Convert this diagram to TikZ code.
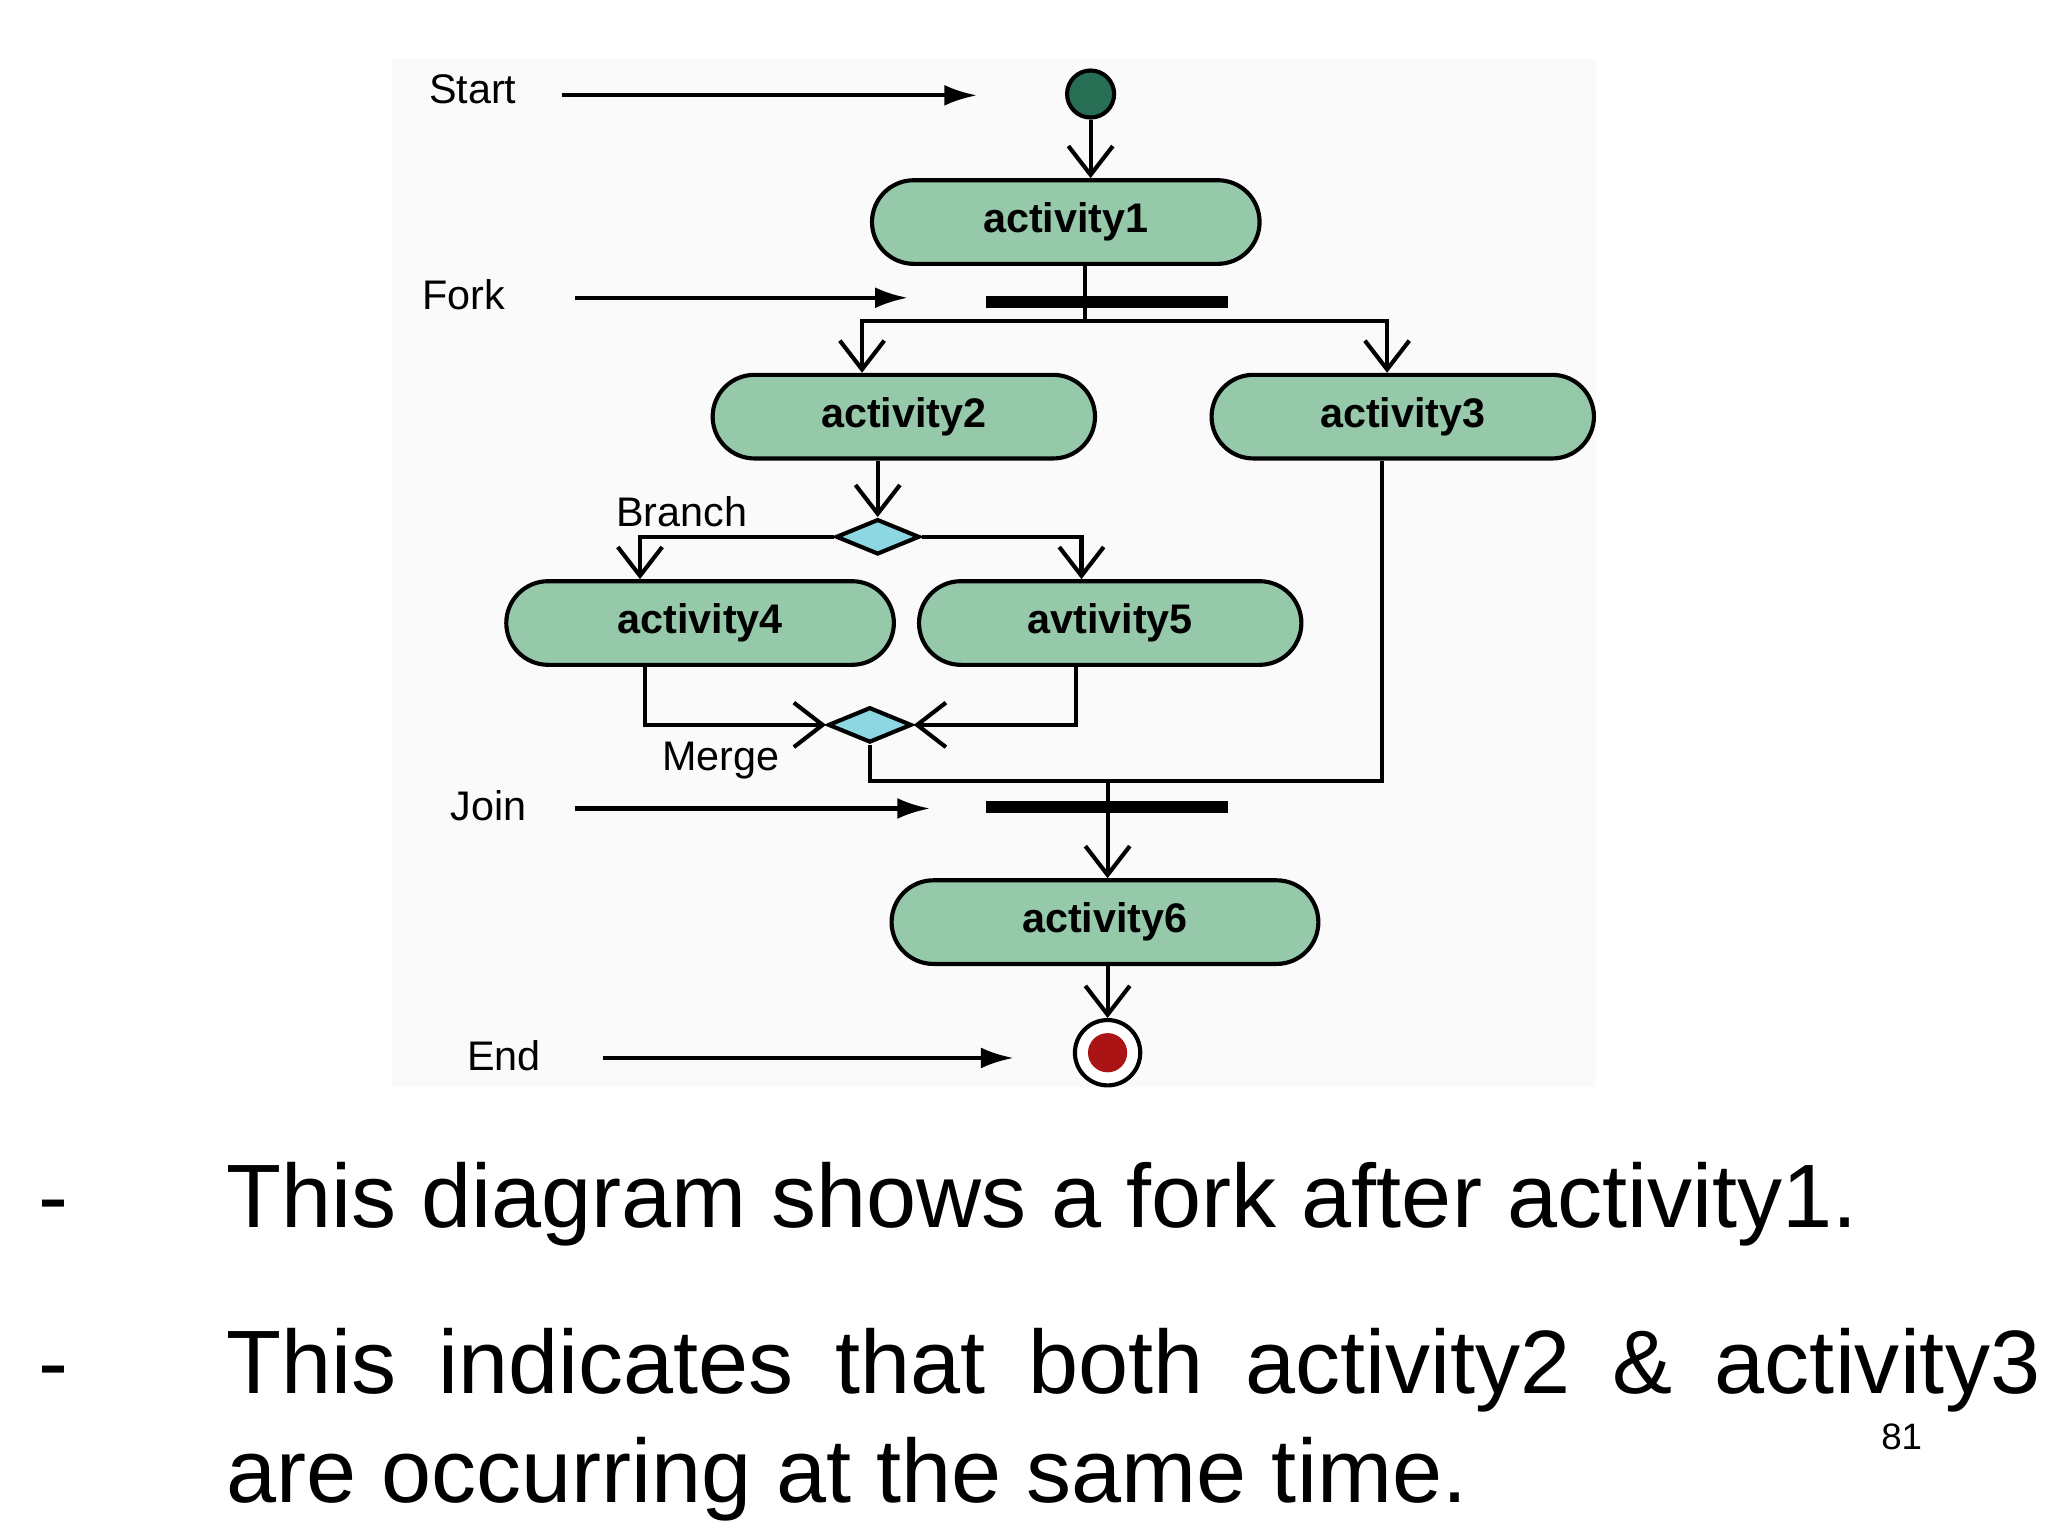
\documentclass[tikz,border=0pt]{standalone}
\usepackage{fontspec}
\setmainfont{Liberation Sans}
\setsansfont{Liberation Sans}
\usetikzlibrary{arrows.meta, shapes.geometric, shapes.misc}
\definecolor{actgreen}{RGB}{150,200,170}
\definecolor{startgreen}{RGB}{40,110,85}
\definecolor{endred}{RGB}{170,20,20}
\definecolor{diacyan}{RGB}{140,215,225}
\begin{document}
\begin{tikzpicture}[
    x=0.01cm, y=-0.01cm,
    font=\sffamily,
    line width=0.9pt,
    act/.style={
      rounded rectangle,
      draw,
      fill=actgreen,
      minimum height=0.64cm,
      font=\sffamily\bfseries\small
    },
    diamondnode/.style={
      diamond,
      draw,
      fill=diacyan,
      aspect=2.4,
      minimum width=0.64cm,
      minimum height=0.27cm,
      inner sep=0pt
    },
    bar/.style={line width=2.6pt},
    flow/.style={-{Straight Barb[length=2.2mm, width=3.4mm]}},
    note/.style={-{Latex[length=2.5mm, width=1.6mm]}},
    lbl/.style={font=\sffamily\small, inner sep=1pt},
    body/.style={anchor=base west, font=\fontsize{19.6}{24}\selectfont}
]
\useasboundingbox (0,0) rectangle (1568,1176);
\fill[black!2] (300,45) rectangle (1222,832);

% 1. NODES
\node[circle, draw, fill=startgreen, minimum size=0.36cm, inner sep=0pt] (start) at (835,72) {};
\node[act, minimum width=3.2cm] (act1) at (816,170) {activity1};
\node[act, minimum width=3.16cm] (act2) at (692,319) {activity2};
\node[act, minimum width=3.16cm] (act3) at (1074,319) {activity3};
\node[diamondnode] (branch) at (672,411) {};
\node[act, minimum width=3.2cm] (act4) at (536,477) {activity4};
\node[act, minimum width=3.16cm] (act5) at (850,477) {avtivity5};
\node[diamondnode] (merge) at (666,555) {};
\node[act, minimum width=3.5cm] (act6) at (846,706) {activity6};
\node[circle, draw, fill=white, minimum size=0.5cm, inner sep=0pt] (end) at (848,806) {};
\fill[endred] (end.center) circle (0.15cm);

\coordinate (forkL) at (755,231);
\coordinate (forkR) at (940,231);
\coordinate (joinL) at (755,618);
\coordinate (joinR) at (940,618);
\draw[bar] (forkL) -- (forkR);
\draw[bar] (joinL) -- (joinR);

% labels on the left
\node[lbl] (lstart) at (362,68) {Start};
\node[lbl] (lfork) at (355,226) {Fork};
\node[lbl] (lbranch) at (522,392) {Branch};
\node[lbl] (lmerge) at (552,582) {Merge};
\node[lbl] (ljoin) at (374,617) {Join};
\node[lbl] (lend) at (386,808) {End};
\coordinate (nstart) at (430,73);
\coordinate (nfork) at (440,228);
\coordinate (njoin) at (440,619);
\coordinate (nend) at (462,810);

% 2. ARROWS
\draw[note] (nstart) -- (748,73);
\draw[note] (nfork) -- (695,228);
\draw[note] (njoin) -- (712,619);
\draw[note] (nend) -- (776,810);

\draw[flow] (start) -- (act1.north -| start);
\draw (act1.south -| 831,0) -- (831,246);
\draw[flow] (831,246) -- (660,246) -- (act2.north -| 660,0);
\draw[flow] (831,246) -- (1062,246) -- (act3.north -| 1062,0);

\draw[flow] (act2.south -| branch) -- (branch.north);
\draw[flow] (branch.west) -- (490,411) -- (act4.north -| 490,0);
\draw[flow] (branch.east) -- (828,411) -- (act5.north -| 828,0);

\draw[flow] (act4.south -| 494,0) -- (494,555) -- (merge.west);
\draw[flow] (act5.south -| 824,0) -- (824,555) -- (merge.east);

\draw (merge.south) -- (666,598) -- (848,598) -- (848,618);
\draw (act3.south -| 1058,0) -- (1058,598) -- (848,598);
\draw[flow] (848,618) -- (act6.north -| 848,0);
\draw[flow] (act6.south -| end) -- (end.north);

% text below
\node[body] (dash1) at (16,940) {-};
\node[body] (item1) at (160,940) {This diagram shows a fork after activity1.};
\node[body] (dash2) at (16,1067) {-};
\node[body] (item2a) at (160,1067)
  {\makebox[13.88cm][s]{This\hfill indicates\hfill that\hfill both\hfill activity2\hfill \&\hfill activity3}};
\node[body] (item2b) at (160,1150) {are occurring at the same time.};
\node[font=\fontsize{8}{10}\selectfont] (page) at (1456,1100) {81};
\end{tikzpicture}
\end{document}
